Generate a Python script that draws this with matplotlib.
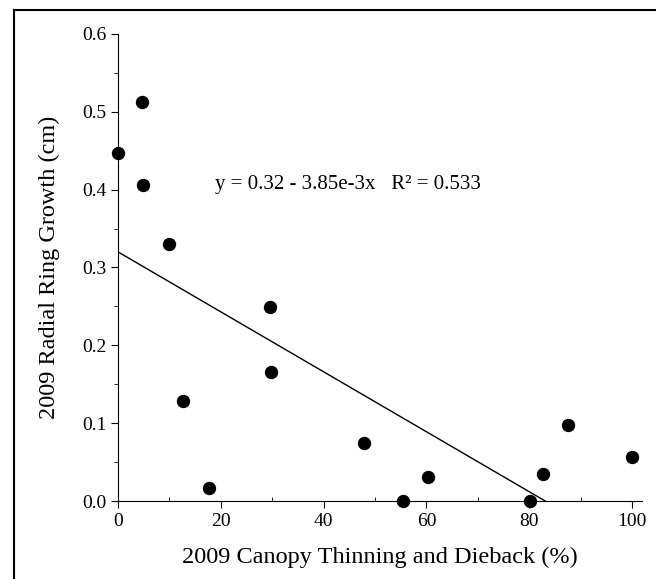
import matplotlib.pyplot as plt
import matplotlib.lines as mlines
import numpy as np

plt.rcParams['font.family'] = ['Liberation Serif', 'DejaVu Serif']

# canopy thinning (%) vs radial ring growth (cm)
thinning = [0, 4.7, 4.8, 9.9, 12.7, 17.7, 29.6, 29.8, 47.8, 55.4, 60.4, 80.1, 82.7, 87.5, 100]
growth = [0.447, 0.512, 0.406, 0.330, 0.129, 0.017, 0.249, 0.166, 0.075, 0.0, 0.031, 0.0, 0.035, 0.098, 0.057]

# regression fit
intercept = 0.32
slope = -3.85e-3
r2 = 0.533

fig = plt.figure(figsize=(6.56, 5.79), dpi=100)
ax = fig.add_axes([0.180, 0.1347, 0.799, 0.8066])

ax.scatter(thinning, growth, s=74, color='black', zorder=3, clip_on=False)

x_end = -intercept / slope
xs = np.array([0, x_end])
ax.plot(xs, intercept + slope * xs, color='black', lw=1.0)

ax.text(18.9, 0.406, 'y = 0.32 - 3.85e-3x   R² = 0.533', fontsize=15, ha='left', va='center')

ax.set_xlim(0, 102)
ax.set_ylim(0, 0.6)
ax.set_xticks([0, 20, 40, 60, 80, 100])
ax.set_xticks([10, 30, 50, 70, 90], minor=True)
ax.set_yticks([0.0, 0.1, 0.2, 0.3, 0.4, 0.5, 0.6])
ax.set_yticklabels(['0.0', '0.1', '0.2', '0.3', '0.4', '0.5', '0.6'])
ax.set_yticks(np.arange(0.05, 0.6, 0.1), minor=True)
ax.spines['top'].set_visible(False)
ax.spines['right'].set_visible(False)
ax.tick_params(axis='both', which='major', direction='out', length=5, labelsize=14)
ax.tick_params(axis='x', which='minor', direction='in', length=3)
ax.tick_params(axis='y', which='minor', direction='out', length=3)

ax.set_xlabel('2009 Canopy Thinning and Dieback (%)', fontsize=17.5, labelpad=12)
ax.set_ylabel('2009 Radial Ring Growth (cm)', fontsize=17.5, labelpad=16)

# frame lines of the scanned page
fig.add_artist(mlines.Line2D([14 / 656, 1.0], [1 - 10 / 579, 1 - 10 / 579], color='black', lw=1.5))
fig.add_artist(mlines.Line2D([14 / 656, 14 / 656], [0, 1 - 10 / 579], color='black', lw=1.5))

fig.savefig('out.png', dpi=100)
